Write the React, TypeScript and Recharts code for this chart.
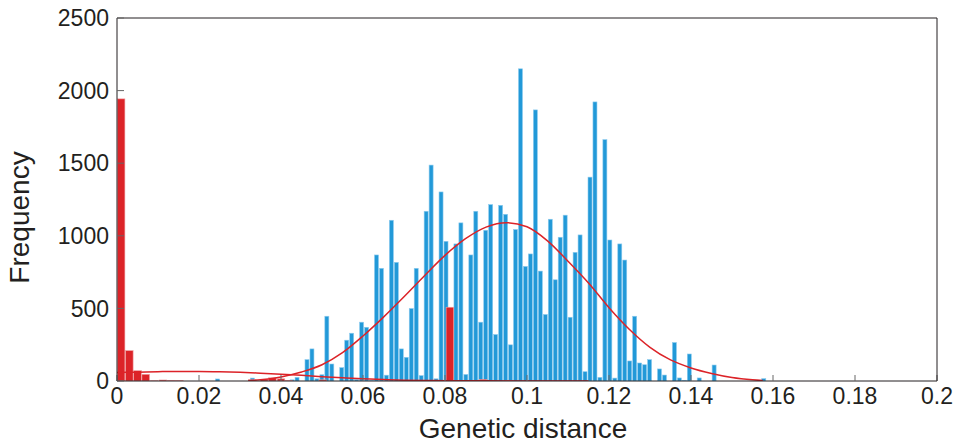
import { Bar, ComposedChart, Line, XAxis, YAxis } from 'recharts'

const X_TICKS = [0, 0.02, 0.04, 0.06, 0.08, 0.1, 0.12, 0.14, 0.16, 0.18, 0.2]
const Y_TICKS = [0, 500, 1000, 1500, 2000, 2500]

// interspecific distances (blue): centre of the first bin, bin width, counts per bin
const BLUE_FIRST = 0.02454
const BLUE_WIDTH = 0.001211
const blueCounts = [
  14, 0, 0, 0, 0, 0, 0, 20, 0, 0, 0, 0, 0, 0, 0, 8,
  25, 0, 147, 221, 15, 43, 446, 117, 0, 92, 281, 329, 10, 405, 370, 5,
  868, 776, 40, 1107, 817, 221, 163, 499, 776, 37, 1169, 1487, 15, 1302, 962, 0,
  944, 1089, 45, 868, 1169, 405, 1038, 1215, 320, 1210, 1148, 249, 1043, 2150, 789, 875,
  1867, 757, 458, 1114, 697, 990, 1142, 439, 886, 1006, 64, 1404, 1922, 25, 1662, 971,
  20, 944, 833, 138, 446, 124, 112, 147, 0, 83, 41, 0, 265, 21, 5, 186,
  0, 21, 0, 0, 110, 0, 0, 0, 0, 0, 0, 0, 0, 0, 16,
]

// intraspecific distances (red)
const redCenters = [
  0.001, 0.003, 0.005, 0.007, 0.0091, 0.0112, 0.0132, 0.0152, 0.033,
  0.0359, 0.0379, 0.04, 0.0419, 0.0502, 0.0812, 0.0832, 0.0893, 0.0955,
]
const redCounts = [1943, 209, 71, 46, 2, 7, 5, 3, 8, 12, 22, 15, 4, 8, 508, 3, 11, 3]

// fitted curves
const interFitX = [
  0.032, 0.035, 0.04, 0.045, 0.05, 0.055, 0.06, 0.065, 0.07, 0.075, 0.08, 0.085, 0.09, 0.095,
  0.1, 0.105, 0.11, 0.115, 0.12, 0.125, 0.13, 0.135, 0.14, 0.145, 0.15, 0.155, 0.1575,
]
const interFitY = [
  3, 8, 28, 62, 112, 195, 310, 440, 580, 725, 865, 980, 1060, 1090,
  1062, 965, 825, 675, 505, 355, 232, 145, 90, 52, 24, 8, 3,
]
const intraFitX = [
  0, 0.005, 0.01, 0.015, 0.02, 0.025, 0.03, 0.035, 0.04, 0.045, 0.05, 0.055, 0.06, 0.065,
  0.07, 0.075, 0.08, 0.09, 0.1, 0.115,
]
const intraFitY = [58, 61, 64, 66, 66, 64, 60, 54, 47, 39, 30, 22, 15, 10, 6, 4, 2, 1, 0.5, 0]

type Row = { x: number; blue?: number; red?: number; inter?: number; intra?: number }

const rows: Row[] = [
  ...blueCounts
    .map((v, i) => ({ x: BLUE_FIRST + i * BLUE_WIDTH, blue: v }))
    .filter((r) => r.blue > 0),
  ...redCenters.map((x, i) => ({ x, red: redCounts[i] })),
  ...interFitX.map((x, i) => ({ x, inter: interFitY[i] })),
  ...intraFitX.map((x, i) => ({ x, intra: intraFitY[i] })),
].sort((a, b) => a.x - b.x)

const FONT = '"Liberation Sans", Arial, Helvetica, sans-serif'
const INK = '#231f20'
const BLUE = '#2299d8'
const RED = '#dc2328'

const fmtX = (v: number) => String(+v.toFixed(2))

// numeric x axis gives a tiny band, so keep the bar centre and set our own width
const binShape = (w: number, fill: string, edge: string) => (props: any) => {
  const { x, y, width, height } = props
  if (!height || height <= 0) return <g />
  const cx = x + width / 2
  return <rect x={cx - w / 2} y={y} width={w} height={height} fill={fill} stroke={edge} strokeWidth={0.6} />
}

function XTitle({ viewBox }: any) {
  const { x, y, width } = viewBox
  return (
    <text x={x + width / 2 - 4} y={y + 57} textAnchor="middle" fontSize={28} fill={INK} fontFamily={FONT}>
      Genetic distance
    </text>
  )
}

function YTitle({ viewBox }: any) {
  const { x, y, height } = viewBox
  const cx = x + 29
  const cy = y + height / 2 + 18
  return (
    <text
      x={cx}
      y={cy}
      transform={`rotate(-90, ${cx}, ${cy})`}
      textAnchor="middle"
      fontSize={28}
      fill={INK}
      fontFamily={FONT}
    >
      Frequency
    </text>
  )
}

export default function App() {
  const tickStyle = { fill: INK, fontSize: 23, fontFamily: FONT }
  return (
    <div style={{ position: 'absolute', left: 0, top: 0, width: 954, height: 446, background: '#fff' }}>
      <ComposedChart
        width={954}
        height={446}
        data={rows}
        margin={{ top: 17, right: 16, bottom: 0, left: 0 }}
        style={{ fontFamily: FONT }}
      >
        <XAxis
          xAxisId="blue"
          type="number"
          dataKey="x"
          domain={[0, 0.2]}
          ticks={X_TICKS}
          interval={0}
          allowDataOverflow
          tickFormatter={fmtX}
          height={65}
          tickSize={-6}
          tickMargin={13}
          axisLine={{ stroke: INK }}
          tickLine={{ stroke: '#666' }}
          tick={tickStyle}
          label={<XTitle />}
        />
        <XAxis xAxisId="red" type="number" dataKey="x" domain={[0, 0.2]} allowDataOverflow hide />
        <XAxis
          xAxisId="top"
          orientation="top"
          type="number"
          dataKey="x"
          domain={[0, 0.2]}
          ticks={X_TICKS}
          interval={0}
          allowDataOverflow
          height={1}
          tick={false}
          tickSize={-6}
          axisLine={{ stroke: INK }}
          tickLine={{ stroke: '#666' }}
        />
        <YAxis
          yAxisId="left"
          type="number"
          domain={[0, 2500]}
          ticks={Y_TICKS}
          interval={0}
          allowDataOverflow
          width={117}
          tickSize={-7}
          tickMargin={15}
          axisLine={{ stroke: INK }}
          tickLine={{ stroke: '#666' }}
          tick={tickStyle}
          label={<YTitle />}
        />
        <YAxis
          yAxisId="right"
          orientation="right"
          type="number"
          domain={[0, 2500]}
          ticks={Y_TICKS}
          interval={0}
          allowDataOverflow
          width={1}
          tick={false}
          tickSize={-6}
          axisLine={{ stroke: INK }}
          tickLine={{ stroke: '#666' }}
        />
        <Bar
          xAxisId="blue"
          yAxisId="left"
          dataKey="blue"
          fill={BLUE}
          shape={binShape(4, BLUE, '#8ccbee')}
          isAnimationActive={false}
        />
        <Bar
          xAxisId="red"
          yAxisId="left"
          dataKey="red"
          fill={RED}
          shape={binShape(7.6, RED, '#f0a0a3')}
          isAnimationActive={false}
        />
        <Line
          xAxisId="blue"
          yAxisId="left"
          type="monotone"
          dataKey="inter"
          stroke={RED}
          strokeWidth={1.5}
          dot={false}
          connectNulls
          isAnimationActive={false}
        />
        <Line
          xAxisId="blue"
          yAxisId="left"
          type="monotone"
          dataKey="intra"
          stroke={RED}
          strokeWidth={1.5}
          dot={false}
          connectNulls
          isAnimationActive={false}
        />
      </ComposedChart>
    </div>
  )
}
